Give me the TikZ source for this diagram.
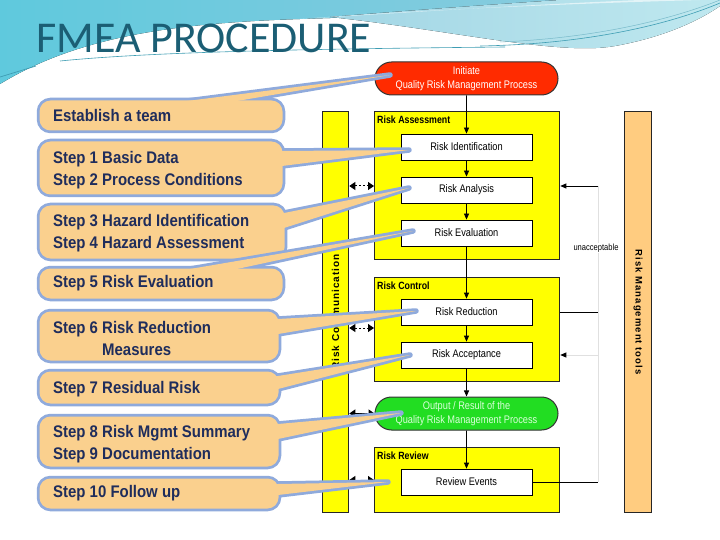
\documentclass[tikz,border=0pt]{standalone}
\usepackage{fontspec}
\setmainfont{Liberation Sans}
\newfontfamily\titlefont{Carlito}
\newfontfamily\callfont[FakeStretch=0.89]{Liberation Sans}
\newfontfamily\diafont[FakeStretch=0.84]{Liberation Sans}
\newfontfamily\barfonta[LetterSpace=10]{Liberation Sans}
\newfontfamily\barfontb[LetterSpace=11]{Liberation Sans}
\usetikzlibrary{arrows.meta,shapes.misc}
\definecolor{titlec}{HTML}{1B5E74}
\definecolor{calfill}{HTML}{FAD08E}
\definecolor{calline}{HTML}{8FAADC}
\definecolor{caltext}{HTML}{1F2D5C}
\definecolor{ryellow}{HTML}{FFFF00}
\definecolor{rorange}{HTML}{FFCC80}
\definecolor{rred}{HTML}{FF2B00}
\definecolor{rgreen}{HTML}{22DD22}
\definecolor{bgl}{HTML}{5FC9DD}
\definecolor{bgm}{HTML}{7DB4CF}
\definecolor{bgr}{HTML}{93CCDF}
\definecolor{wvl}{HTML}{A2D6E5}
\definecolor{wvr}{HTML}{BFE8EF}
\definecolor{swl}{HTML}{3E9DB3}
\newcommand{\callshape}[3]{%
  \draw[calline, line width=5.5pt, rounded corners=11pt] #1 rectangle #2;
  \draw[calline, line width=5.5pt, line join=round] #3;
  \fill[calfill, rounded corners=11pt] #1 rectangle #2;
  \fill[calfill] #3;
}
\begin{document}
\begin{tikzpicture}[x=1pt,y=-1pt,
  ybox/.style={draw=black!85, line width=1.3pt, fill=ryellow, anchor=north west, inner sep=0pt},
  wbox/.style={draw=black, line width=0.8pt, fill=white, minimum width=131pt, minimum height=26pt, inner sep=0pt, font=\diafont\fontsize{11}{13}\selectfont},
  stad/.style={rounded rectangle, draw=black!80, line width=1pt, minimum width=183pt, minimum height=33pt, inner sep=0pt, align=center, font=\diafont\fontsize{11}{14.5}\selectfont},
  lbl/.style={anchor=west, inner sep=0pt, font=\diafont\bfseries\fontsize{10.5}{12}\selectfont},
  flow/.style={-{Triangle[length=6pt,width=5pt]}, line width=0.8pt},
  plain/.style={line width=0.8pt},
  faint/.style={line width=0.8pt, draw=black!12},
  dda/.style={{Triangle[length=6pt,width=8pt]}-{Triangle[length=6pt,width=8pt]}, line width=1pt, dash pattern=on 1.5pt off 2.5pt},
  sda/.style={{Triangle[length=6pt,width=8pt]}-{Triangle[length=6pt,width=8pt]}, line width=1.3pt},
  ctext/.style={anchor=west, inner sep=0pt, align=left, text=caltext, font=\callfont\bfseries\fontsize{16.8}{22}\selectfont}
]
\useasboundingbox (0,0) rectangle (720,540);
\fill[white] (0,0) rectangle (720,540);
% background swooshes
\fill[left color=bgl, middle color=bgm, right color=bgr]
  (0,0) -- (720,0) -- (720,2) .. controls (600,10) and (450,14) .. (300,19)
  .. controls (180,23) and (80,35) .. (0,84) -- cycle;
\fill[left color=wvl, right color=wvr]
  (330,17) .. controls (450,30) and (560,56) .. (615,46)
  .. controls (665,37) and (700,20) .. (720,6) -- (720,0) -- (560,0)
  .. controls (470,6) and (390,12) .. (330,17) -- cycle;
\fill[white, opacity=0.6] (300,19) .. controls (420,10) and (560,4) .. (700,0) -- (640,0) .. controls (520,5) and (400,13) .. (300,19) -- cycle;
\draw[swl, line width=0.7pt] (0,77) -- (36,66);
\draw[swl, line width=0.6pt] (60,61) .. controls (150,52) and (300,49) .. (505,47);
\draw[swl, line width=0.6pt] (480,46) .. controls (590,44) and (670,24) .. (720,3);
\draw[swl!70, line width=0.5pt] (500,42) .. controls (600,38) and (675,18) .. (720,0);
% title
\node[anchor=base west, inner sep=0pt, text=titlec, font=\titlefont\fontsize{44}{50}\selectfont] (title) at (36,53) {FMEA PROCEDURE};
% side bars
\node[ybox, minimum width=26pt, minimum height=401pt] (rcomm) at (322,111) {};
\node[rotate=90, inner sep=0pt, font=\barfonta\bfseries\fontsize{10}{12}\selectfont] (rcommt) at (rcomm.center) {Risk Communication};
\node[ybox, fill=rorange, minimum width=27pt, minimum height=401pt] (rtools) at (624,111) {};
\node[rotate=-90, inner sep=0pt, font=\barfontb\bfseries\fontsize{9.5}{11}\selectfont] (rtoolst) at (rtools.center) {Risk Management tools};
% yellow group boxes
\node[ybox, minimum width=185pt, minimum height=148pt] (ra) at (374,111) {};
\node[ybox, minimum width=185pt, minimum height=104pt] (rc) at (374,277) {};
\node[ybox, minimum width=185pt, minimum height=65pt] (rr) at (374,447) {};
\path (ra.north west) ++(3,9) node[lbl] (ral) {Risk Assessment};
\path (rc.north west) ++(3,9) node[lbl] (rcl) {Risk Control};
\path (rr.north west) ++(3,9) node[lbl] (rrl) {Risk Review};
% stadiums
\node[stad, fill=rred, text=white] (init) at (466.5,78.5) {Initiate\\Quality Risk Management Process};
\node[stad, fill=rgreen, text=green!15] (outp) at (466.5,413.5) {Output / Result of the\\Quality Risk Management Process};
% white boxes
\node[wbox] (rid) at (466.5,147) {Risk Identification};
\node[wbox] (rana) at (466.5,190) {Risk Analysis};
\node[wbox] (reva) at (466.5,233) {Risk Evaluation};
\node[wbox] (rred) at (466.5,312) {Risk Reduction};
\node[wbox] (racc) at (466.5,355) {Risk Acceptance};
\node[wbox] (revev) at (466.5,482) {Review Events};
% flow arrows
\draw[flow] (init) -- (rid);
\draw[flow] (rid) -- (rana);
\draw[flow] (rana) -- (reva);
\draw[flow] (reva) -- (rred);
\draw[flow] (rred) -- (racc);
\draw[flow] (racc) -- (outp);
\draw[flow] (outp) -- (revev);
% communication arrows
\coordinate (d1) at (0,186);
\coordinate (d2) at (0,328);
\coordinate (d4) at (0,480);
\draw[dda] (rcomm.east |- d1) -- (ra.west |- d1);
\draw[dda] (rcomm.east |- d2) -- (rc.west |- d2);
\draw[sda] (rcomm.east |- outp) -- (outp.west);
\draw[dda] (rcomm.east |- d4) -- (rr.west |- d4);
% right loop
\coordinate (q1) at (598,186);
\coordinate (q2) at (598,312);
\coordinate (q3) at (598,355);
\coordinate (q4) at (598,482);
\draw[faint] (q1) -- (q4);
\draw[flow] (q1) -- (ra.east |- q1);
\draw[plain] (rc.east |- q2) -- (q2);
\draw[faint, -{Triangle[length=6pt,width=5pt,color=black]}] (q3) -- (rc.east |- q3);
\draw[plain] (revev.east) -- (q4);
\node[fill=white, inner sep=1pt, font=\diafont\fontsize{9}{10}\selectfont] (unacc) at (596,248) {unacceptable};
% callouts
\callshape{(39.5,100.5)}{(282.5,130.5)}{(187,101) -- (390,75) -- (237,101) -- (237,110) -- (187,110) -- cycle}
\node[ctext] (c1) at (53,115) {Establish a team};
\callshape{(39.5,141.5)}{(282.5,194.5)}{(282,151) -- (409,150) -- (282,166) -- (272,166) -- (272,151) -- cycle}
\node[ctext] (c2) at (53,170.5) {Step 1 Basic Data\\Step 2 Process Conditions};
\callshape{(39.5,205.5)}{(284.5,258.5)}{(284,213) -- (409,188) -- (284,228) -- (274,228) -- (274,213) -- cycle}
\node[ctext] (c3) at (53,233.5) {Step 3 Hazard Identification\\Step 4 Hazard Assessment};
\callshape{(39.5,268.5)}{(282.5,298.5)}{(190,269) -- (413,231) -- (237,269) -- (237,278) -- (190,278) -- cycle}
\node[ctext] (c4) at (53,283) {Step 5 Risk Evaluation};
\callshape{(39.5,311.5)}{(278.5,360.5)}{(278,319) -- (416,311) -- (278,334) -- (268,334) -- (268,319) -- cycle}
\node[ctext] (c5) at (53,338.5) {Step 6 Risk Reduction\\\hspace*{49pt}Measures};
\callshape{(39.5,371.5)}{(278.5,403.5)}{(278,376) -- (410,355) -- (278,389) -- (268,389) -- (268,376) -- cycle}
\node[ctext] (c6) at (53,389) {Step 7 Residual Risk};
\callshape{(39.5,416.5)}{(278.5,466.5)}{(278,424) -- (401,413) -- (278,439) -- (268,439) -- (268,424) -- cycle}
\node[ctext] (c7) at (53,444.5) {Step 8 Risk Mgmt Summary\\Step 9 Documentation};
\callshape{(39.5,478.5)}{(278.5,508.5)}{(278,484) -- (388,482) -- (278,495) -- (268,495) -- (268,484) -- cycle}
\node[ctext] (c8) at (53,493) {Step 10 Follow up};
\end{tikzpicture}
\end{document}
